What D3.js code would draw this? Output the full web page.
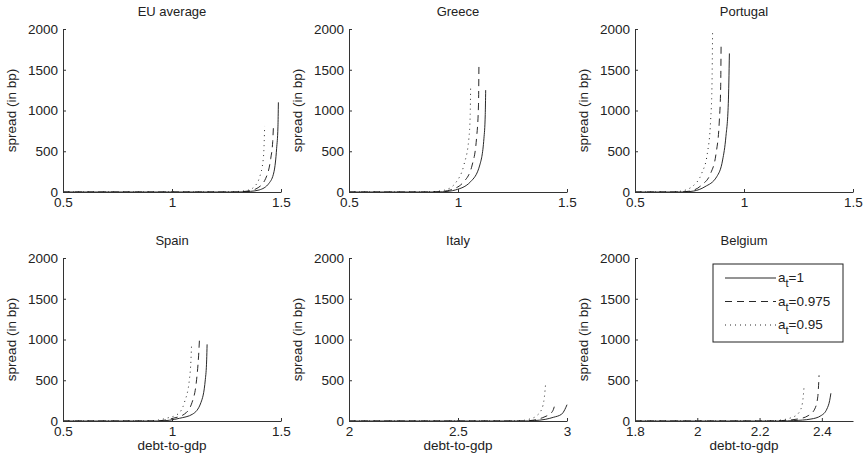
<!DOCTYPE html>
<html>
<head>
<meta charset="utf-8">
<script src="https://cdn.jsdelivr.net/npm/d3@7"></script>
<style>
	body { margin: 0; background: #fff; }
	text { font-family: "Liberation Sans", Arial, sans-serif; fill: #222; }
</style>
</head>
<body>
<div id="chart"></div>
<script>
// panel titles and axis settings
var titles = ["EU average", "Greece", "Portugal", "Spain", "Italy", "Belgium"];
var xDomains = [[0.5, 1.5], [0.5, 1.5], [0.5, 1.5], [0.5, 1.5], [2, 3], [1.8, 2.5]];
var xTicks = [
	[0.5, 1, 1.5], [0.5, 1, 1.5], [0.5, 1, 1.5],
	[0.5, 1, 1.5], [2, 2.5, 3], [1.8, 2, 2.2, 2.4]
];
var yTicks = [0, 500, 1000, 1500, 2000];
var legendLabels = ["1", "0.975", "0.95"];

// [debt-to-gdp, spread], one array per a_t value
var euA1 = [[0.5, 0], [1.30, 0], [1.36, 8], [1.40, 25], [1.445, 107], [1.468, 250], [1.480, 536], [1.486, 800], [1.488, 1100]];
var euA0975 = [[0.5, 0], [1.28, 0], [1.35, 12], [1.39, 45], [1.430, 168], [1.453, 413], [1.462, 620], [1.465, 785]];
var euA095 = [[0.5, 0], [1.25, 0], [1.31, 8], [1.354, 25], [1.377, 65], [1.40, 168], [1.419, 413], [1.423, 620], [1.425, 810]];

var greeceA1 = [[0.5, 0], [0.90, 0], [0.96, 10], [0.988, 25], [1.058, 127], [1.100, 331], [1.119, 659], [1.125, 950], [1.127, 1250]];
var greeceA0975 = [[0.5, 0], [0.87, 0], [0.93, 8], [0.965, 25], [1.027, 127], [1.065, 331], [1.085, 659], [1.094, 1067], [1.096, 1558]];
var greeceA095 = [[0.5, 0], [0.84, 0], [0.90, 8], [0.942, 25], [0.993, 127], [1.027, 331], [1.050, 659], [1.056, 950], [1.058, 1290]];

var portugalA1 = [[0.5, 0], [0.72, 0], [0.77, 12], [0.821, 65], [0.875, 188], [0.902, 393], [0.917, 679], [0.928, 1088], [0.933, 1700]];
var portugalA0975 = [[0.5, 0], [0.70, 0], [0.75, 10], [0.806, 86], [0.847, 229], [0.872, 475], [0.887, 883], [0.893, 1292], [0.895, 1825]];
var portugalA095 = [[0.5, 0], [0.66, 0], [0.71, 10], [0.771, 86], [0.806, 229], [0.832, 475], [0.847, 883], [0.853, 1292], [0.856, 1990]];

var spainA1 = [[0.5, 0], [0.94, 0], [0.99, 10], [1.034, 33], [1.095, 85], [1.133, 228], [1.153, 512], [1.159, 750], [1.161, 940]];
var spainA0975 = [[0.5, 0], [0.92, 0], [0.96, 8], [1.004, 33], [1.057, 85], [1.092, 228], [1.113, 512], [1.122, 800], [1.126, 1000]];
var spainA095 = [[0.5, 0], [0.89, 0], [0.93, 8], [0.973, 33], [1.027, 85], [1.057, 228], [1.080, 512], [1.087, 750], [1.090, 960]];

var italyA1 = [[2, 0], [2.80, 0], [2.85, 5], [2.90, 20], [2.937, 45], [2.976, 85], [2.990, 140], [3.0, 200]];
var italyA0975 = [[2, 0], [2.78, 0], [2.83, 5], [2.87, 25], [2.899, 53], [2.930, 106], [2.940, 160], [2.945, 215]];
var italyA095 = [[2, 0], [2.74, 0], [2.79, 5], [2.83, 25], [2.861, 65], [2.884, 146], [2.896, 289], [2.902, 460]];

var belgiumA1 = [[1.8, 0], [2.27, 0], [2.31, 5], [2.365, 24], [2.397, 65], [2.416, 146], [2.425, 250], [2.429, 340]];
var belgiumA0975 = [[1.8, 0], [2.23, 0], [2.27, 5], [2.322, 24], [2.356, 65], [2.377, 146], [2.387, 300], [2.391, 560]];
var belgiumA095 = [[1.8, 0], [2.20, 0], [2.25, 5], [2.305, 45], [2.327, 106], [2.338, 228], [2.343, 430]];

var series = [
	[euA1, euA0975, euA095],
	[greeceA1, greeceA0975, greeceA095],
	[portugalA1, portugalA0975, portugalA095],
	[spainA1, spainA0975, spainA095],
	[italyA1, italyA0975, italyA095],
	[belgiumA1, belgiumA0975, belgiumA095]
];

var width = 864;
var height = 466;
var svg = d3.select("#chart").append("svg").attr("width", width).attr("height", height);

// subplot boxes
var colLeft = [63, 349, 635];
var rowTop = [29, 258];
var plotW = 218;
var plotH = 163;
var dashes = [null, "7,5", "1,4"];

titles.forEach(function (title, i) {
	var left = colLeft[i % 3];
	var top = rowTop[Math.floor(i / 3)];
	var g = svg.append("g").attr("transform", `translate(${left}, ${top})`);

	var x = d3.scaleLinear().domain(xDomains[i]).range([0, plotW]);
	var y = d3.scaleLinear().domain([0, 2000]).range([plotH, 0]);

	var line = d3.line()
		.x((d) => x(d[0]))
		.y((d) => y(d[1]))
		.curve(d3.curveMonotoneX);

	series[i].forEach(function (s, k) {
		g.append("path")
			.attr("d", line(s))
			.attr("fill", "none")
			.attr("stroke", "#111")
			.attr("stroke-width", 0.9)
			.attr("stroke-dasharray", dashes[k]);
	});

	// X-axis (ticks point inward like matlab)
	var xAxis = g.append("g")
		.attr("transform", `translate(0, ${plotH})`)
		.call(d3.axisBottom(x).tickValues(xTicks[i]).tickFormat(d3.format("")).tickSizeInner(-3).tickSizeOuter(0).tickPadding(5));
	xAxis.selectAll("text").style("font-size", "13.5px").attr("fill", "#222");

	// Y-axis
	var yAxis = g.append("g")
		.call(d3.axisLeft(y).tickValues(yTicks).tickFormat(d3.format("d")).tickSizeInner(-3).tickSizeOuter(0).tickPadding(5));
	yAxis.selectAll("text").style("font-size", "13.5px").attr("fill", "#222");

	[xAxis, yAxis].forEach(function (a) {
		a.select(".domain").attr("stroke", "#333");
		a.selectAll(".tick line").attr("stroke", "#333");
	});

	g.append("text")
		.attr("x", plotW / 2)
		.attr("y", -16)
		.attr("text-anchor", "middle")
		.attr("dominant-baseline", "middle")
		.attr("font-size", "13px")
		.text(title);

	g.append("text")
		.attr("transform", `translate(${-51}, ${plotH / 2}) rotate(-90)`)
		.attr("text-anchor", "middle")
		.attr("dominant-baseline", "middle")
		.attr("font-size", "13.5px")
		.text("spread (in bp)");

	if (i >= 3) {
		g.append("text")
			.attr("x", plotW / 2)
			.attr("y", plotH + 25)
			.attr("text-anchor", "middle")
			.attr("dominant-baseline", "middle")
			.attr("font-size", "13.5px")
			.text("debt-to-gdp");
	}

	// legend sits in the Belgium panel
	if (i === 5) {
		var lg = g.append("g").attr("transform", "translate(78, 6)");
		lg.append("rect")
			.attr("width", 130)
			.attr("height", 78)
			.attr("fill", "#fff")
			.attr("stroke", "#222")
			.attr("stroke-width", 1);
		legendLabels.forEach(function (lab, k) {
			var ly = 14 + k * 23.5;
			lg.append("line")
				.attr("x1", 12).attr("x2", 63)
				.attr("y1", ly).attr("y2", ly)
				.attr("stroke", "#111")
				.attr("stroke-width", 0.9)
				.attr("stroke-dasharray", dashes[k]);
			var t = lg.append("text")
				.attr("x", 65)
				.attr("y", ly + 4)
				.attr("font-size", "13.5px");
			t.append("tspan").text("a");
			t.append("tspan").attr("dy", 5).attr("font-size", "11px").text("t");
			t.append("tspan").attr("dy", -5).text("=" + lab);
		});
	}
});
</script>
</body>
</html>
